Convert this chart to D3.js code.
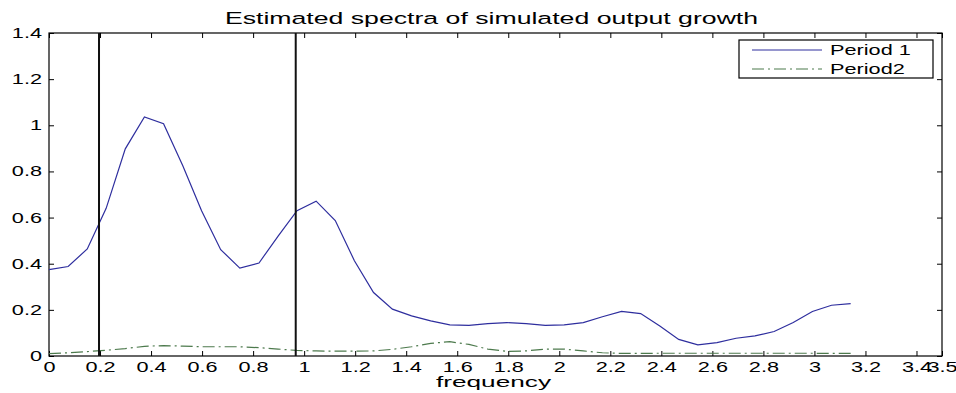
<!DOCTYPE html>
<html>
<head>
<meta charset="utf-8">
<script src="https://cdn.jsdelivr.net/npm/d3@7"></script>
<style>
  body { margin: 0; background: #fff; }
  svg text { font-family: "Liberation Sans", Arial, sans-serif; fill: #000; }
</style>
</head>
<body>
<svg id="chart" width="956" height="393"></svg>
<script>
// frequency grid (0..pi)
const freq = [0, 0.075, 0.150, 0.224, 0.299, 0.374, 0.449, 0.524, 0.598, 0.673, 0.748,
  0.823, 0.898, 0.972, 1.047, 1.122, 1.197, 1.272, 1.346, 1.421, 1.496, 1.571, 1.646,
  1.720, 1.795, 1.870, 1.945, 2.019, 2.094, 2.169, 2.244, 2.319, 2.394, 2.468, 2.543,
  2.618, 2.693, 2.767, 2.842, 2.917, 2.992, 3.067, 3.142];

const period1 = [0.374, 0.388, 0.464, 0.64, 0.898, 1.036, 1.007, 0.826, 0.63, 0.461, 0.381,
  0.403, 0.52, 0.630, 0.671, 0.587, 0.413, 0.275, 0.203, 0.174, 0.152, 0.135, 0.133,
  0.14, 0.145, 0.14, 0.133, 0.135, 0.145, 0.17, 0.193, 0.184, 0.13, 0.072, 0.048,
  0.058, 0.077, 0.087, 0.106, 0.145, 0.193, 0.22, 0.227];

const period2 = [0.010, 0.014, 0.019, 0.025, 0.032, 0.042, 0.045, 0.043, 0.040, 0.040, 0.040,
  0.036, 0.030, 0.024, 0.022, 0.021, 0.021, 0.022, 0.029, 0.040, 0.055, 0.062, 0.050,
  0.030, 0.020, 0.022, 0.030, 0.030, 0.022, 0.014, 0.011, 0.011, 0.012, 0.012, 0.012,
  0.012, 0.012, 0.012, 0.012, 0.012, 0.012, 0.011, 0.011];

// band limits (vertical lines)
const bands = [0.196, 0.967];

const xTicks = [0, 0.2, 0.4, 0.6, 0.8, 1, 1.2, 1.4, 1.6, 1.8, 2, 2.2, 2.4, 2.6, 2.8, 3, 3.2, 3.4, 3.5];
const yTicks = [0, 0.2, 0.4, 0.6, 0.8, 1, 1.2, 1.4];

const seriesNames = ["Period 1", "Period2"];
const seriesColors = ["#2e2e9e", "#4d7a4d"];
const seriesDash = [null, "12,4,2,4"];

const stretch = 1.55; // text in the picture is stretched horizontally

const svg = d3.select("#chart"),
    margin = { top: 33, right: 14, bottom: 37, left: 49 },
    width = +svg.attr("width") - margin.left - margin.right,
    height = +svg.attr("height") - margin.top - margin.bottom,
    g = svg.append("g").attr("transform", "translate(" + margin.left + "," + margin.top + ")");

const x = d3.scaleLinear().domain([0, 3.5]).range([0, width]);
const y = d3.scaleLinear().domain([0, 1.4]).range([height, 0]);

const fmt = d => d3.format("")(+d.toFixed(1));

//axes - ticks inside, on all sides
function styleAxis(sel) {
  sel.select(".domain").remove();
  sel.selectAll(".tick line").attr("stroke", "#000");
}

const xBottom = g.append("g")
  .attr("transform", "translate(0," + height + ")")
  .call(d3.axisBottom(x).tickValues(xTicks).tickSize(-5).tickPadding(6).tickFormat(fmt));
styleAxis(xBottom);
xBottom.selectAll(".tick text")
  .attr("font-size", 14)
  .attr("transform", "scale(" + stretch + ",1)");

const yLeft = g.append("g")
  .call(d3.axisLeft(y).tickValues(yTicks).tickSize(-5).tickPadding(0).tickFormat(fmt));
styleAxis(yLeft);
yLeft.selectAll(".tick text")
  .attr("font-size", 14)
  .attr("x", -7 / stretch)
  .attr("transform", "scale(" + stretch + ",1)");

const xTop = g.append("g")
  .call(d3.axisTop(x).tickValues(xTicks).tickSize(-5).tickFormat(""));
styleAxis(xTop);

const yRight = g.append("g")
  .attr("transform", "translate(" + width + ",0)")
  .call(d3.axisRight(y).tickValues(yTicks).tickSize(-5).tickFormat(""));
styleAxis(yRight);

// box
g.append("rect")
  .attr("width", width).attr("height", height)
  .attr("fill", "none").attr("stroke", "#000").attr("stroke-width", 1.2);

// series
const line = d3.line().x((d, i) => x(freq[i])).y(d => y(d));
[period1, period2].forEach((s, k) => {
  g.append("path")
    .datum(s)
    .attr("d", line)
    .attr("fill", "none")
    .attr("stroke", seriesColors[k])
    .attr("stroke-width", 1.2)
    .attr("stroke-dasharray", seriesDash[k]);
});

// vertical band lines
g.selectAll(".band")
  .data(bands)
  .enter().append("line")
    .attr("class", "band")
    .attr("x1", d => x(d)).attr("x2", d => x(d))
    .attr("y1", 0).attr("y2", height)
    .attr("stroke", "#111").attr("stroke-width", 2);

// title
svg.append("text")
  .attr("transform", "translate(" + (margin.left + width / 2 - 4) + ",24) scale(" + stretch + ",1)")
  .attr("text-anchor", "middle")
  .attr("font-size", 17.2)
  .text("Estimated spectra of simulated output growth");

// x label
svg.append("text")
  .attr("transform", "translate(" + (margin.left + width / 2 - 2) + ",387) scale(1.75,1)")
  .attr("text-anchor", "middle")
  .attr("font-size", 15)
  .text("frequency");

// legend
const legend = g.append("g").attr("transform", "translate(" + (width - 203) + ",7)");
legend.append("rect")
  .attr("width", 194).attr("height", 38)
  .attr("fill", "#fff").attr("stroke", "#000").attr("stroke-width", 1.2);
seriesNames.forEach((name, k) => {
  const ly = 10 + k * 19;
  legend.append("line")
    .attr("x1", 13).attr("x2", 83).attr("y1", ly).attr("y2", ly)
    .attr("stroke", seriesColors[k]).attr("stroke-width", 1.2)
    .attr("stroke-dasharray", seriesDash[k]);
  legend.append("text")
    .attr("transform", "translate(91," + (ly + 5) + ") scale(" + stretch + ",1)")
    .attr("font-size", 14)
    .text(name);
});
</script>
</body>
</html>
